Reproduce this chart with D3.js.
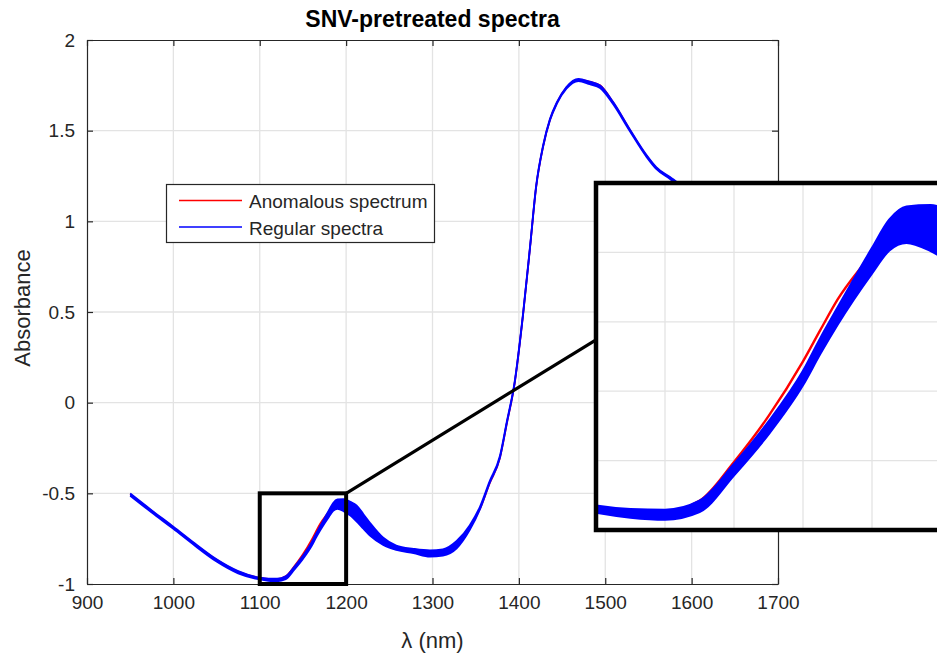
<!DOCTYPE html>
<html>
<head>
<meta charset="utf-8">
<script src="https://cdn.jsdelivr.net/npm/d3@7"></script>
<style>
  html, body { margin: 0; padding: 0; background: #fff; }
  svg { display: block; font-family: "Liberation Sans", Arial, Helvetica, sans-serif; }
</style>
</head>
<body>
<svg id="chart" width="937" height="657"></svg>
<script>
// ---------------- DATA ----------------
const wavelength = [950, 975, 1000, 1025, 1050, 1075, 1100, 1110, 1120, 1130, 1140, 1150, 1160, 1165, 1170, 1180, 1185, 1190, 1197,
  1205, 1212, 1220, 1228, 1243, 1258, 1278, 1297, 1312, 1328, 1343, 1355, 1366, 1378, 1386, 1395,
  1405, 1413, 1420, 1428, 1436, 1444, 1455, 1469, 1482, 1494, 1509, 1528, 1548, 1559, 1575, 1600, 1625, 1650];

// lower and upper envelope of the bundle of regular spectra
const regularLow = [-0.513, -0.606, -0.696, -0.789, -0.876, -0.941, -0.975, -0.982, -0.985, -0.974, -0.921, -0.862, -0.791, -0.746, -0.704, -0.630, -0.597, -0.586, -0.598,
  -0.623, -0.654, -0.695, -0.735, -0.785, -0.812, -0.830, -0.849, -0.843, -0.803, -0.703, -0.587, -0.445, -0.306, -0.115, 0.104,
  0.491, 0.858, 1.189, 1.410, 1.557, 1.649, 1.731, 1.774, 1.756, 1.735, 1.647, 1.501, 1.354, 1.289, 1.234, 1.145, 1.075, 1.015];
const regularHigh = [-0.501, -0.594, -0.684, -0.777, -0.864, -0.929, -0.965, -0.970, -0.971, -0.958, -0.905, -0.844, -0.771, -0.724, -0.680, -0.594, -0.553, -0.534, -0.532,
  -0.547, -0.566, -0.615, -0.665, -0.745, -0.788, -0.806, -0.815, -0.809, -0.763, -0.677, -0.573, -0.435, -0.294, -0.105, 0.112,
  0.499, 0.866, 1.197, 1.418, 1.565, 1.657, 1.741, 1.786, 1.770, 1.749, 1.659, 1.511, 1.364, 1.299, 1.244, 1.155, 1.085, 1.025];
// anomalous spectrum
const anomalous = [-0.505, -0.598, -0.688, -0.781, -0.867, -0.932, -0.966, -0.972, -0.973, -0.958, -0.902, -0.836, -0.757, -0.712, -0.668, -0.601, -0.566, -0.545, -0.542,
  -0.560, -0.590, -0.640, -0.690, -0.760, -0.795, -0.815, -0.830, -0.824, -0.783, -0.692, -0.585, -0.447, -0.305, -0.115, 0.104,
  0.492, 0.860, 1.190, 1.412, 1.560, 1.653, 1.737, 1.782, 1.770, 1.750, 1.657, 1.508, 1.360, 1.295, 1.240, 1.150, 1.080, 1.020];

const xTicks = [900, 1000, 1100, 1200, 1300, 1400, 1500, 1600, 1700];
const xTickLabels = ["900", "1000", "1100", "1200", "1300", "1400", "1500", "1600", "1700"];
const yTicks = [-1, -0.5, 0, 0.5, 1, 1.5, 2];
const yTickLabels = ["-1", "-0.5", "0", "0.5", "1", "1.5", "2"];
const insetXTicks = [1120, 1140, 1160, 1180];
const insetYTicks = [-0.9, -0.8, -0.7, -0.6];
const zoomXDomain = [1100, 1200];
const zoomYDomain = [-1, -0.5];
const legendLabels = ["Anomalous spectrum", "Regular spectra"];
const legendColors = ["#ff0000", "#0000ff"];
const titleText = "SNV-pretreated spectra";
const xLabelText = "λ (nm)";
const yLabelText = "Absorbance";

// ---------------- LAYOUT ----------------
const svg = d3.select("#chart");
const axisColor = "#262626";
const gridColor = "#e3e3e3";
const plot = { left: 87, right: 778, top: 40, bottom: 584 };
const x = d3.scaleLinear().domain([900, 1700]).range([plot.left, plot.right]);
const y = d3.scaleLinear().domain([-1, 2]).range([plot.bottom, plot.top]);

const inset = { left: 596, right: 941, top: 183, bottom: 530 };
const xi = d3.scaleLinear().domain(zoomXDomain).range([inset.left, inset.right]);
const yi = d3.scaleLinear().domain(zoomYDomain).range([inset.bottom, inset.top]);

const rows = wavelength.map((w, i) => ({ w, lo: regularLow[i], hi: regularHigh[i], an: anomalous[i] }));

svg.append("rect").attr("width", 937).attr("height", 657).attr("fill", "#fff");

const defs = svg.append("defs");
defs.append("clipPath").attr("id", "clipMain").append("rect")
  .attr("x", plot.left).attr("y", plot.top).attr("width", plot.right - plot.left).attr("height", plot.bottom - plot.top);
defs.append("clipPath").attr("id", "clipInset").append("rect")
  .attr("x", inset.left).attr("y", inset.top).attr("width", inset.right - inset.left).attr("height", inset.bottom - inset.top);

// ---------- main axes ----------
const gMain = svg.append("g");
// grid
gMain.append("g").selectAll("line.vg").data(xTicks.slice(1, -1)).join("line")
  .attr("x1", d => x(d)).attr("x2", d => x(d)).attr("y1", plot.top).attr("y2", plot.bottom)
  .attr("stroke", gridColor).attr("stroke-width", 1.3);
gMain.append("g").selectAll("line.hg").data(yTicks.slice(1, -1)).join("line")
  .attr("y1", d => y(d)).attr("y2", d => y(d)).attr("x1", plot.left).attr("x2", plot.right)
  .attr("stroke", gridColor).attr("stroke-width", 1.3);

// axes via d3 axis generators (ticks inside)
const xAxis = d3.axisBottom(x).tickValues(xTicks).tickFormat((d, i) => xTickLabels[i]).tickSize(-6).tickSizeOuter(0).tickPadding(12);
const yAxis = d3.axisLeft(y).tickValues(yTicks).tickFormat((d, i) => yTickLabels[i]).tickSize(-6).tickSizeOuter(0).tickPadding(12);
const gx = gMain.append("g").attr("transform", `translate(0,${plot.bottom})`).call(xAxis);
const gy = gMain.append("g").attr("transform", `translate(${plot.left},0)`).call(yAxis);
const gxt = gMain.append("g").attr("transform", `translate(0,${plot.top})`).call(d3.axisTop(x).tickValues(xTicks).tickSize(-6).tickSizeOuter(0).tickFormat(""));
const gyr = gMain.append("g").attr("transform", `translate(${plot.right},0)`).call(d3.axisRight(y).tickValues(yTicks).tickSize(-6).tickSizeOuter(0).tickFormat(""));
[gx, gy, gxt, gyr].forEach(g => {
  g.select(".domain").attr("stroke", axisColor).attr("stroke-width", 1.2);
  g.selectAll(".tick line").attr("stroke", axisColor).attr("stroke-width", 1.2);
  g.selectAll(".tick text").attr("fill", axisColor).style("font-size", "19px").style("font-family", "Liberation Sans, Arial, sans-serif");
});

// spectra
function drawSpectra(g, xs, ys, lw) {
  const area = d3.area().x(d => xs(d.w)).y0(d => ys(d.lo)).y1(d => ys(d.hi)).curve(d3.curveMonotoneX);
  const lineOf = key => d3.line().x(d => xs(d.w)).y(d => ys(d[key])).curve(d3.curveMonotoneX);
  g.append("path").datum(rows).attr("d", lineOf("an")).attr("fill", "none").attr("stroke", legendColors[0]).attr("stroke-width", lw);
  g.append("path").datum(rows).attr("d", area).attr("fill", legendColors[1]).attr("stroke", "none");
  g.append("path").datum(rows).attr("d", lineOf("lo")).attr("fill", "none").attr("stroke", legendColors[1]).attr("stroke-width", lw);
  g.append("path").datum(rows).attr("d", lineOf("hi")).attr("fill", "none").attr("stroke", legendColors[1]).attr("stroke-width", lw);
}
drawSpectra(gMain.append("g").attr("clip-path", "url(#clipMain)"), x, y, 1.8);

// title & labels
svg.append("text").attr("x", (plot.left + plot.right) / 2).attr("y", 27).attr("text-anchor", "middle")
  .style("font-size", "23px").style("font-weight", "bold").attr("fill", "#000").text(titleText);
svg.append("text").attr("x", (plot.left + plot.right) / 2).attr("y", 648).attr("text-anchor", "middle")
  .style("font-size", "22px").attr("fill", axisColor).text(xLabelText);
svg.append("text").attr("transform", `translate(30,${(plot.top + plot.bottom) / 2 - 4}) rotate(-90)`).attr("text-anchor", "middle")
  .style("font-size", "22px").attr("fill", axisColor).text(yLabelText);

// legend
const lg = svg.append("g");
lg.append("rect").attr("x", 166.5).attr("y", 184.5).attr("width", 268).attr("height", 58)
  .attr("fill", "#fff").attr("stroke", axisColor).attr("stroke-width", 1.2);
legendLabels.forEach((lab, i) => {
  const yy = 200.5 + i * 26.5;
  lg.append("line").attr("x1", 179).attr("x2", 242).attr("y1", yy).attr("y2", yy)
    .attr("stroke", legendColors[i]).attr("stroke-width", 1.5);
  lg.append("text").attr("x", 249).attr("y", yy + 7.5).style("font-size", "19px").attr("fill", axisColor).text(lab);
});

// zoom box in main axes + connector
svg.append("rect").attr("x", x(zoomXDomain[0])).attr("y", y(zoomYDomain[1]))
  .attr("width", x(zoomXDomain[1]) - x(zoomXDomain[0])).attr("height", y(zoomYDomain[0]) - y(zoomYDomain[1]))
  .attr("fill", "none").attr("stroke", "#000").attr("stroke-width", 4);
svg.append("line").attr("x1", x(zoomXDomain[1])).attr("y1", y(zoomYDomain[1]))
  .attr("x2", xi(zoomXDomain[0])).attr("y2", yi(-0.726))
  .attr("stroke", "#000").attr("stroke-width", 3.2);

// ---------- inset axes ----------
const gIn = svg.append("g");
gIn.append("rect").attr("x", inset.left).attr("y", inset.top).attr("width", inset.right - inset.left)
  .attr("height", inset.bottom - inset.top).attr("fill", "#fff");
gIn.append("g").selectAll("line").data(insetXTicks).join("line")
  .attr("x1", d => xi(d)).attr("x2", d => xi(d)).attr("y1", inset.top).attr("y2", inset.bottom)
  .attr("stroke", gridColor).attr("stroke-width", 1.3);
gIn.append("g").selectAll("line").data(insetYTicks).join("line")
  .attr("y1", d => yi(d)).attr("y2", d => yi(d)).attr("x1", inset.left).attr("x2", inset.right)
  .attr("stroke", gridColor).attr("stroke-width", 1.3);
drawSpectra(gIn.append("g").attr("clip-path", "url(#clipInset)"), xi, yi, 2.4);
gIn.append("rect").attr("x", inset.left).attr("y", inset.top).attr("width", inset.right - inset.left)
  .attr("height", inset.bottom - inset.top).attr("fill", "none").attr("stroke", "#000").attr("stroke-width", 4.5);
</script>
</body>
</html>
